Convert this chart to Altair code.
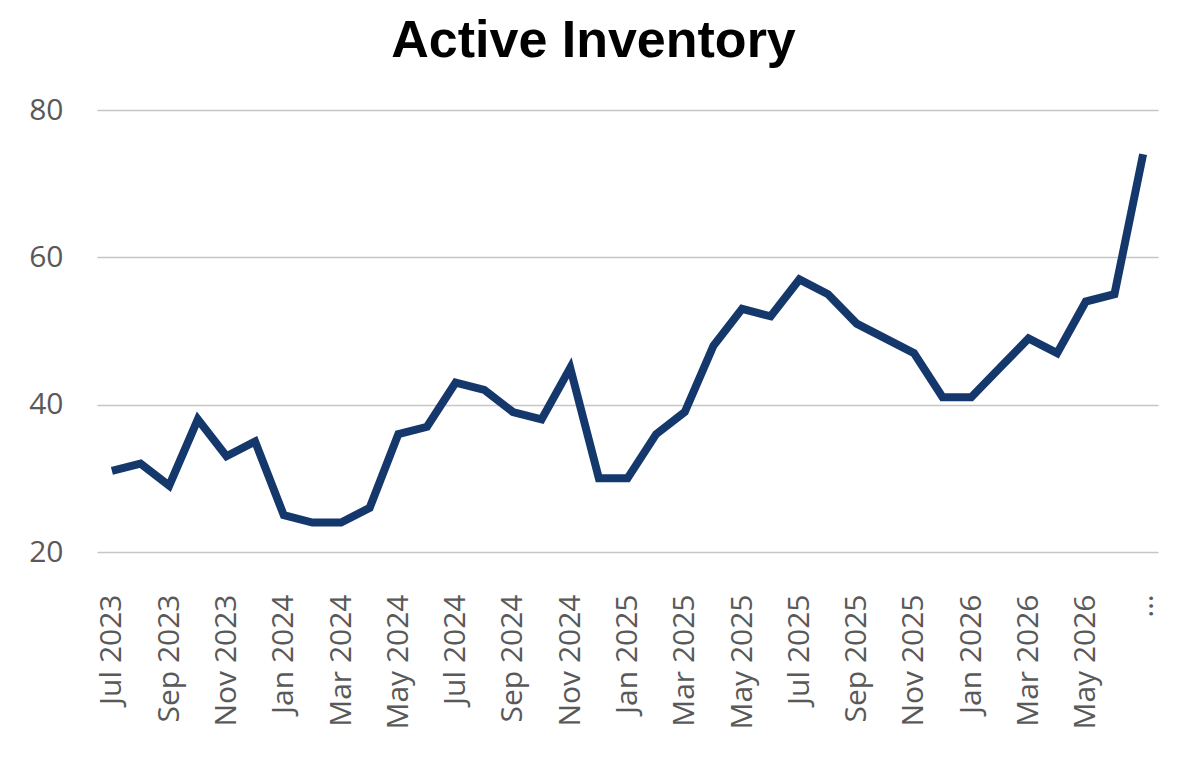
import altair as alt
import pandas as pd

months = [
    "Jul 2023", "Aug 2023", "Sep 2023", "Oct 2023", "Nov 2023", "Dec 2023",
    "Jan 2024", "Feb 2024", "Mar 2024", "Apr 2024", "May 2024", "Jun 2024",
    "Jul 2024", "Aug 2024", "Sep 2024", "Oct 2024", "Nov 2024", "Dec 2024",
    "Jan 2025", "Feb 2025", "Mar 2025", "Apr 2025", "May 2025", "Jun 2025",
    "Jul 2025", "Aug 2025", "Sep 2025", "Oct 2025", "Nov 2025", "Dec 2025",
    "Jan 2026", "Feb 2026", "Mar 2026", "Apr 2026", "May 2026", "Jun 2026",
    "Jul 2026",
]
values = [
    31, 32, 29, 38, 33, 35,
    25, 24, 24, 26, 36, 37,
    43, 42, 39, 38, 45, 30,
    30, 36, 39, 48, 53, 52,
    57, 55, 51, 49, 47, 41,
    41, 45, 49, 47, 54, 55,
    74,
]
tick_labels = months[::2]
y_ticks = [20, 40, 60, 80]

df = pd.DataFrame({"month": months, "value": values})

chart = (
    alt.Chart(df)
    .mark_line(color="#14386b", strokeWidth=8)
    .encode(
        x=alt.X(
            "month:O",
            sort=months,
            scale=alt.Scale(type="point", padding=0.52),
            axis=alt.Axis(
                title=None,
                values=tick_labels,
                labelAngle=-90,
                labelFont="Open Sans",
                labelFontSize=30,
                labelColor="#595959",
                labelPadding=42,
                labelExpr="datum.value == 'Jul 2026' ? '…' : datum.label",
                domain=False,
                ticks=False,
                grid=False,
                labelLimit=300,
            ),
        ),
        y=alt.Y(
            "value:Q",
            scale=alt.Scale(domain=[20, 80], nice=False, zero=False),
            axis=alt.Axis(
                title=None,
                values=y_ticks,
                labelFont="Open Sans",
                labelFontSize=30,
                labelColor="#595959",
                labelPadding=34,
                domain=False,
                ticks=False,
                grid=True,
                gridColor="#c6c6c6",
                gridWidth=1.5,
            ),
        ),
    )
    .properties(
        width=1061,
        height=442,
        title=alt.TitleParams(
            "Active Inventory",
            font="Liberation Sans",
            fontSize=52,
            fontWeight="bold",
            color="#000000",
            anchor="middle",
            dx=-34,
            dy=50,
            baseline="alphabetic",
            offset=36,
        ),
        autosize=alt.AutoSizeParams(type="none"),
        padding={"left": 89, "top": 102, "right": 32, "bottom": 208},
    )
    .configure_view(stroke=None)
)

chart.save("out.html", embed_options={"renderer": "svg", "actions": False})
